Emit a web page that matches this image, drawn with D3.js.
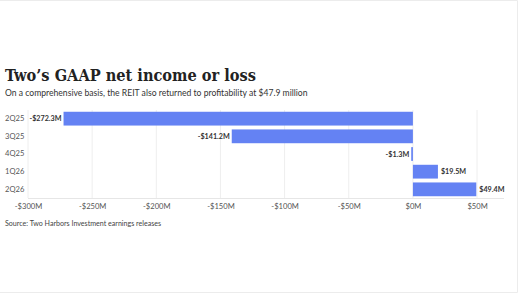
<!DOCTYPE html>
<html>
<head>
<meta charset="utf-8">
<script src="https://cdn.jsdelivr.net/npm/d3@7"></script>
<style>
  body { margin: 0; background: #fff; }
  svg { display: block; }
</style>
</head>
<body>
<div id="container"></div>
<script>
// quarters and GAAP net income (millions of $)
let quarters = ["2Q25", "3Q25", "4Q25", "1Q26", "2Q26"];
let netIncome = [-272.3, -141.2, -1.3, 19.5, 49.4];
let xTicks = [-300, -250, -200, -150, -100, -50, 0, 50];

let w = 520;
let h = 293;
let plotLeft = 28;
let plotRight = 504;
let plotTop = 110;
let plotBottom = 198;

let viz = d3.select("#container")
  .append("svg")
    .attr("width", w)
    .attr("height", h)
;

// faint frame, like the screenshot has
viz.append("path")
  .attr("d", "M0,0.5 H517.5 V292.5 H0")
  .attr("fill", "none")
  .attr("stroke", "#ececec");

viz.append("text")
  .text("Two\u2019s GAAP net income or loss")
  .attr("x", 5)
  .attr("y", 81)
  .attr("font-family", "DejaVu Serif Condensed, DejaVu Serif, serif")
  .attr("font-weight", "bold")
  .attr("font-size", "16.2px")
  .attr("fill", "#222");

viz.append("text")
  .text("On a comprehensive basis, the REIT also returned to profitability at $47.9 million")
  .attr("x", 5)
  .attr("y", 96)
  .attr("font-family", "Lato, sans-serif")
  .attr("font-size", "8.6px")
  .attr("fill", "#333");

let xScale = d3.scaleLinear().domain([-300, 71]).range([plotLeft, plotRight]);
let yScale = d3.scaleBand().domain(quarters).range([plotTop, plotBottom]).paddingInner(0.22).paddingOuter(0.1);

// grid
viz.append("g")
  .selectAll("line")
  .data(xTicks)
  .enter()
  .append("line")
    .attr("x1", d => xScale(d))
    .attr("x2", d => xScale(d))
    .attr("y1", plotTop)
    .attr("y2", plotBottom)
    .attr("stroke", "#eeeeee");

viz.append("line")
  .attr("x1", plotLeft).attr("x2", plotRight)
  .attr("y1", plotBottom + 0.5).attr("y2", plotBottom + 0.5)
  .attr("stroke", "#e6e6e6");

// x axis
let xAxis = d3.axisBottom(xScale)
  .tickValues(xTicks)
  .tickSize(0)
  .tickPadding(6)
  .tickFormat(d => (d < 0 ? "-$" : "$") + Math.abs(d) + "M");

let xAxisGroup = viz.append("g")
  .attr("transform", "translate(0," + plotBottom + ")")
  .call(xAxis);
xAxisGroup.select(".domain").remove();
xAxisGroup.selectAll("text")
  .attr("font-family", "Lato, sans-serif")
  .attr("font-size", "7.6px")
  .attr("fill", "#555");

// y axis labels, left aligned at the page margin
let yAxis = d3.axisLeft(yScale).tickSize(0).tickPadding(0);
let yAxisGroup = viz.append("g")
  .attr("transform", "translate(" + plotLeft + ",0)")
  .call(yAxis);
yAxisGroup.select(".domain").remove();
yAxisGroup.selectAll("text")
  .attr("text-anchor", "start")
  .attr("x", 5 - plotLeft)
  .attr("font-family", "Lato, sans-serif")
  .attr("font-size", "7.6px")
  .attr("fill", "#555");

// bars
let rows = quarters.map((q, i) => ({ q: q, v: netIncome[i] }));

viz.append("g")
  .selectAll("rect")
  .data(rows)
  .enter()
  .append("rect")
    .attr("x", d => xScale(Math.min(0, d.v)))
    .attr("y", d => yScale(d.q))
    .attr("width", d => Math.abs(xScale(d.v) - xScale(0)))
    .attr("height", yScale.bandwidth())
    .attr("fill", "#6482f3");

// value labels
viz.append("g")
  .selectAll("text")
  .data(rows)
  .enter()
  .append("text")
    .text(d => (d.v < 0 ? "-$" : "$") + Math.abs(d.v).toFixed(1) + "M")
    .attr("x", d => d.v < 0 ? xScale(d.v) - 2 : xScale(d.v) + 3)
    .attr("y", d => yScale(d.q) + yScale.bandwidth() / 2)
    .attr("dy", "0.35em")
    .attr("text-anchor", d => d.v < 0 ? "end" : "start")
    .attr("font-family", "Lato, sans-serif")
    .attr("font-weight", "bold")
    .attr("font-size", "7.2px")
    .attr("fill", "#333");

viz.append("text")
  .text("Source: Two Harbors Investment earnings releases")
  .attr("x", 5)
  .attr("y", 226)
  .attr("font-family", "Lato, sans-serif")
  .attr("font-size", "7.1px")
  .attr("fill", "#444");
</script>
</body>
</html>
